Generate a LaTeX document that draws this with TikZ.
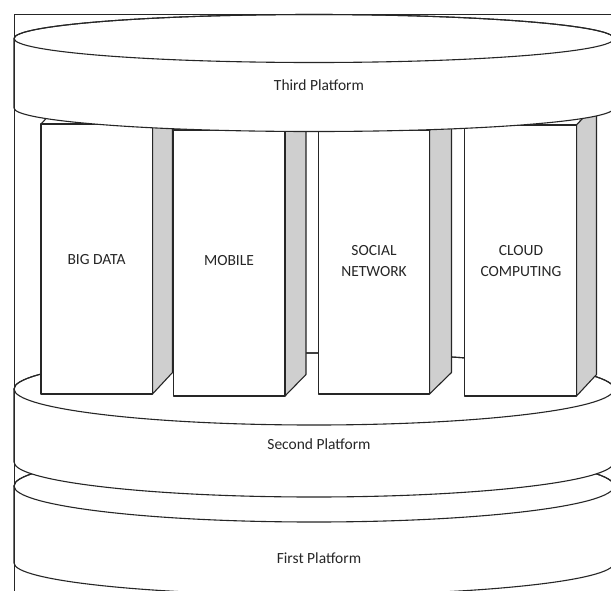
\documentclass[tikz,border=0pt]{standalone}
\usepackage{fontspec}
\setmainfont{Carlito}
\newcommand\drawplatform[4]{%
  \filldraw[frontface] (14,#1) -- (14,#3)
     arc[start angle=180,end angle=360,x radius=300pt,y radius=#4pt]
     -- (614,#1)
     arc[start angle=0,end angle=180,x radius=300pt,y radius=#2pt] -- cycle;
  \draw[edge] (314,#1) ellipse[x radius=300pt, y radius=#2pt];}
\newcommand\drawbox[5]{%
  \filldraw[frontface] (#1,#3) -- ({#1+#5},{#3-21.5}) -- ({#2+#5},{#3-21.5}) -- (#2,#3) -- cycle;
  \filldraw[sideface] (#2,#3) -- ({#2+#5},{#3-21.5}) -- ({#2+#5},{#4-21.5}) -- (#2,#4) -- cycle;
  \filldraw[frontface] (#1,#3) rectangle (#2,#4);}
\begin{document}
\begin{tikzpicture}[x=1pt,y=-1pt,line width=1.1pt,
  edge/.style={draw=black!85,line join=round},
  sideface/.style={fill=black!19,draw=black!85,line join=round},
  frontface/.style={fill=white,draw=black!85,line join=round},
  lbl/.style={font=\fontsize{15.5}{21.7}\selectfont,text=black!85,align=center,inner sep=0pt}]
\useasboundingbox (0,0) rectangle (611,590);
\fill[white] (0,0) rectangle (611,590);
% platforms (bottom to top)
\drawplatform{486}{36}{563}{32}
\drawplatform{389}{36}{462}{35}
% boxes
\drawbox{41}{152.5}{124}{394}{20}
\drawbox{173.5}{285}{130}{396}{21}
\drawbox{318.5}{429.5}{130.5}{394}{22}
\drawbox{464.5}{576.5}{125}{396}{20}
\drawplatform{38.5}{24}{108}{23.5}
% labels
\node[lbl] (t3) at (319,85) {Third Platform};
\node[lbl] (t2) at (319,444) {Second Platform};
\node[lbl] (t1) at (319,558) {First Platform};
\node[lbl] (bd) at (96.5,260) {BIG DATA};
\node[lbl] (mo) at (229,261) {MOBILE};
\node[lbl] (sn) at (374,261) {SOCIAL\\NETWORK};
\node[lbl] (cc) at (521,261) {CLOUD\\COMPUTING};
% frame
\draw[edge,line width=0.9pt] (14,600) -- (14,14) -- (620,14);
\end{tikzpicture}
\end{document}
